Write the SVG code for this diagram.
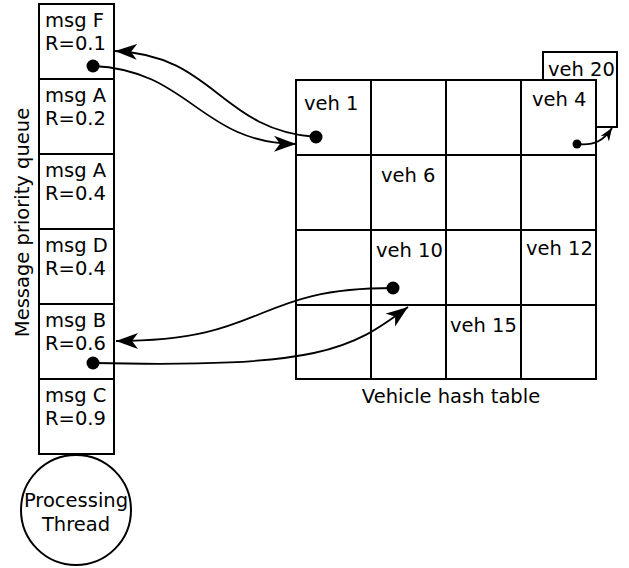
<svg xmlns="http://www.w3.org/2000/svg" width="629" height="568" viewBox="0 0 629 568">
  <style>
    .box { fill: #fff; stroke: #000; stroke-width: 2; }
    .txt { font-family: "DejaVu Sans", Verdana, sans-serif; font-size: 19.5px; fill: #000; }
    .con { fill: none; stroke: #000; stroke-width: 1.8; }
    .dot { fill: #000; }
  </style>
  <defs>
    <marker id="arrow" markerUnits="userSpaceOnUse" markerWidth="26" markerHeight="18" refX="22" refY="8" orient="auto">
      <path d="M22,8 L0,0 L6,8 L0,16 Z" fill="#000"/>
    </marker>
    <marker id="arrowSmall" markerUnits="userSpaceOnUse" markerWidth="16" markerHeight="12" refX="13" refY="5" orient="auto">
      <path d="M13,5 L0,0 L4,5 L0,10 Z" fill="#000"/>
    </marker>
  </defs>

  <rect width="629" height="568" fill="#fff"/>

  <!-- message priority queue -->
  <g id="queue">
    <text class="txt" transform="translate(28.5,222.5) rotate(-90)" text-anchor="middle">Message priority queue</text>
  </g>
  <g id="msgF">
    <rect class="box" x="39" y="4" width="75" height="75"/>
    <text class="txt" x="45" y="26.5">msg F</text>
    <text class="txt" x="45" y="50">R=0.1</text>
  </g>
  <g id="msgA1">
    <rect class="box" x="39" y="79" width="75" height="75"/>
    <text class="txt" x="45" y="101.5">msg A</text>
    <text class="txt" x="45" y="125">R=0.2</text>
  </g>
  <g id="msgA2">
    <rect class="box" x="39" y="154" width="75" height="75"/>
    <text class="txt" x="45" y="176.5">msg A</text>
    <text class="txt" x="45" y="200">R=0.4</text>
  </g>
  <g id="msgD">
    <rect class="box" x="39" y="229" width="75" height="75"/>
    <text class="txt" x="45" y="251.5">msg D</text>
    <text class="txt" x="45" y="275">R=0.4</text>
  </g>
  <g id="msgB">
    <rect class="box" x="39" y="304" width="75" height="75"/>
    <text class="txt" x="45" y="326.5">msg B</text>
    <text class="txt" x="45" y="350">R=0.6</text>
  </g>
  <g id="msgC">
    <rect class="box" x="39" y="379" width="75" height="75"/>
    <text class="txt" x="45" y="401.5">msg C</text>
    <text class="txt" x="45" y="425">R=0.9</text>
  </g>

  <!-- processing thread -->
  <g id="thread">
    <circle class="box" cx="76" cy="510" r="55" stroke-width="1.6"/>
    <text class="txt" x="76" y="507" text-anchor="middle">Processing</text>
    <text class="txt" x="76" y="531" text-anchor="middle">Thread</text>
  </g>

  <!-- overflow entry behind bucket 4 -->
  <g id="veh20">
    <rect class="box" x="543" y="52" width="74" height="75"/>
    <text class="txt" x="548" y="76">veh 20</text>
  </g>

  <!-- vehicle hash table -->
  <g id="hashTable">
    <rect class="box" x="296" y="80" width="300" height="299"/>
    <path d="M371,80 V379 M446,80 V379 M521,80 V379 M296,155 H596 M296,230 H596 M296,305 H596" stroke="#000" stroke-width="2" fill="none"/>
    <text class="txt" x="451" y="403" text-anchor="middle">Vehicle hash table</text>
  </g>
  <g id="veh1"><text class="txt" x="304" y="110">veh 1</text></g>
  <g id="veh4"><text class="txt" x="532" y="106">veh 4</text></g>
  <g id="veh6"><text class="txt" x="381" y="182">veh 6</text></g>
  <g id="veh10"><text class="txt" x="376" y="257">veh 10</text></g>
  <g id="veh12"><text class="txt" x="526" y="255">veh 12</text></g>
  <g id="veh15"><text class="txt" x="450" y="332">veh 15</text></g>

  <!-- pointers -->
  <g id="connectors">
    <path class="con" d="M93,66 C190,70 200,143 296,144" marker-end="url(#arrow)"/>
    <path class="con" d="M316,137 C220,130 215,55 115,51" marker-end="url(#arrow)"/>
    <path class="con" d="M577,144 C595,146 604,140 612,128" marker-end="url(#arrowSmall)"/>
    <path class="con" d="M393,288 C250,288 270,341 116,341" marker-end="url(#arrow)"/>
    <path class="con" d="M93,363 C320,368 350,350 408,307" marker-end="url(#arrow)"/>
    <circle class="dot" cx="93" cy="66" r="6.5"/>
    <circle class="dot" cx="316" cy="137" r="6.5"/>
    <circle class="dot" cx="577" cy="144" r="4.5"/>
    <circle class="dot" cx="393" cy="288" r="6.5"/>
    <circle class="dot" cx="93" cy="363" r="6.5"/>
  </g>
</svg>
